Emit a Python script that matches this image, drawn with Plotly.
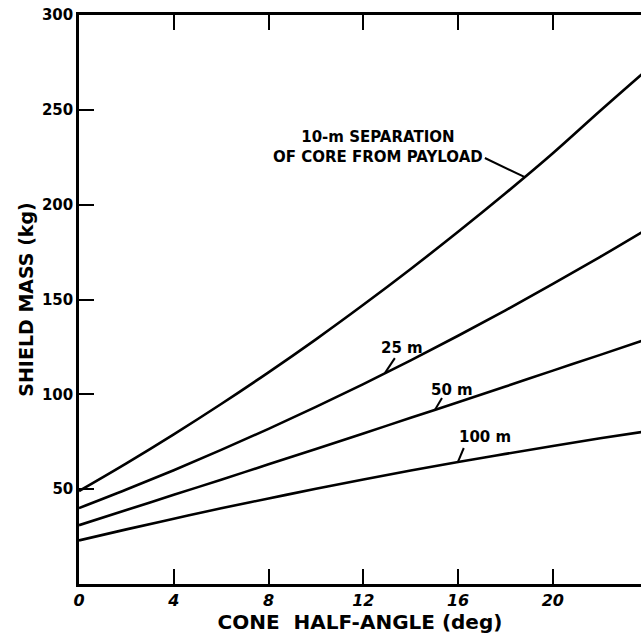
import plotly.graph_objects as go

# Cone half-angle (deg)
angle = [0, 2, 4, 6, 8, 10, 12, 14, 16, 18, 20, 22, 24]

# Shield mass (kg) for each core-payload separation
mass_10m = [49, 63.6, 78.9, 94.9, 111.6, 129, 147.2, 166.1, 185.7, 206, 227.1, 249.5, 271.4]
mass_25m = [40, 49.8, 60, 70.7, 81.8, 93.4, 105.4, 117.9, 130.9, 144.3, 158.2, 172.5, 187.3]
mass_50m = [31, 39, 47, 55, 63.1, 71.2, 79.4, 87.6, 95.8, 104.1, 112.5, 120.8, 129.3]
mass_100m = [23, 28.8, 34.4, 39.9, 45.1, 50.2, 55.1, 59.8, 64.3, 68.6, 72.8, 76.8, 80.6]

x_ticks = [0, 4, 8, 12, 16, 20]
y_ticks = [50, 100, 150, 200, 250, 300]
y_right_ticks = [50, 100, 150, 200, 250]

# label text, text position (x, y), leader start, leader end
labels = [
    ("10-m SEPARATION<br>OF CORE FROM PAYLOAD", 12.6, 230.5, (17.13, 224.6), (18.82, 214.5)),
    ("25 m", 13.63, 124.4, (13.33, 119.1), (12.91, 111.2)),
    ("50 m", 15.74, 102.3, (15.32, 98.1), (15.02, 91.7)),
    ("100 m", 17.13, 77.5, (16.24, 71.7), (15.99, 64.3)),
]

FONT = "DejaVu Sans"
fig = go.Figure()
for ys in [mass_10m, mass_25m, mass_50m, mass_100m]:
    fig.add_trace(go.Scatter(x=angle, y=ys, mode="lines",
                             line=dict(color="black", width=2.6, shape="spline"),
                             showlegend=False, hoverinfo="skip"))

for text, tx, ty, (x0, y0), (x1, y1) in labels:
    fig.add_annotation(x=tx, y=ty, text=f"<b>{text}</b>", showarrow=False,
                       font=dict(family=FONT, size=15, color="black"),
                       xanchor="center", yanchor="middle", align="center")
    fig.add_shape(type="line", x0=x0, y0=y0, x1=x1, y1=y1,
                  xref="x", yref="y", line=dict(color="black", width=2))

fig.update_layout(
    width=641, height=644,
    margin=dict(l=79, r=0, t=15, b=60),
    paper_bgcolor="white", plot_bgcolor="white",
    font=dict(family=FONT, color="black"),
    xaxis=dict(range=[0, 23.72], tickvals=x_ticks,
               ticktext=[f"<b><i>{v}</i></b>" for v in x_ticks],
               ticks="inside", ticklen=15, tickwidth=2, tickcolor="black",
               showline=True, linewidth=2.5, linecolor="black", mirror="ticks",
               showgrid=False, zeroline=False,
               tickfont=dict(family=FONT, size=16),
               title=dict(text="<b>CONE  HALF-ANGLE (deg)</b>",
                          font=dict(family=FONT, size=20), standoff=6)),
    yaxis=dict(range=[0, 300], tickvals=y_ticks,
               ticktext=[f"<b>{v}</b>" for v in y_ticks],
               ticks="inside", ticklen=15, tickwidth=2, tickcolor="black",
               showline=True, linewidth=2.5, linecolor="black", mirror=False,
               showgrid=False, zeroline=False,
               tickfont=dict(family=FONT, size=15),
               title=dict(text="<b>SHIELD MASS (kg)</b>",
                          font=dict(family=FONT, size=19), standoff=4)),
    yaxis2=dict(range=[0, 300], overlaying="y", side="right", anchor="x",
                tickvals=y_right_ticks, showticklabels=False,
                ticks="inside", ticklen=15, tickwidth=2, tickcolor="black",
                showline=False, showgrid=False, zeroline=False),
)

fig.write_html("out.html")
